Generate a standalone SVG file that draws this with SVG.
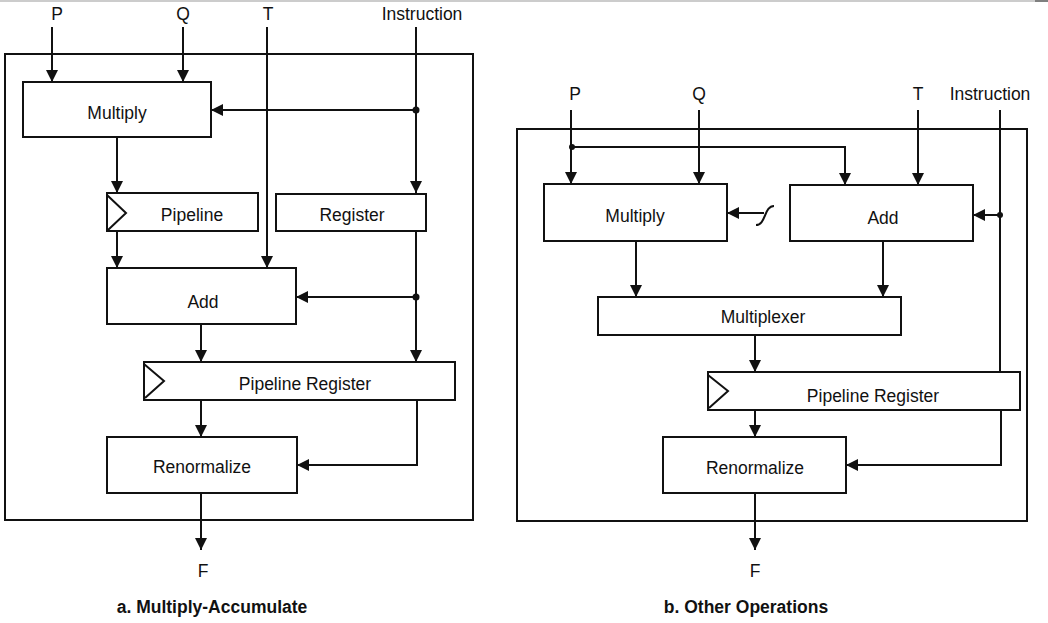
<svg xmlns="http://www.w3.org/2000/svg" width="1048" height="623" viewBox="0 0 1048 623">
<style>
.box{fill:#fff;stroke:#111;stroke-width:2}
.frame{fill:none;stroke:#111;stroke-width:2}
.ln{fill:none;stroke:#111;stroke-width:2}
.lbl{font-family:"Liberation Sans",Arial,sans-serif;font-size:17.5px;fill:#111;text-anchor:middle}
.cap{font-family:"Liberation Sans",Arial,sans-serif;font-size:17.5px;font-weight:bold;fill:#111;text-anchor:middle}
.clk{fill:none;stroke:#111;stroke-width:2}
</style>
<defs>
<marker id="ah" viewBox="0 0 10 10" refX="10" refY="5" markerWidth="6" markerHeight="6.5" orient="auto" markerUnits="strokeWidth">
<path d="M0,0 L10,5 L0,10 z" fill="#111"/>
</marker>
</defs>
<rect width="1048" height="623" fill="#fff"/>
<line x1="0" y1="1" x2="1035" y2="1" stroke="#bbb" stroke-width="1.5"/>
<line x1="1035" y1="1" x2="1048" y2="1" stroke="#555" stroke-width="1.5"/>

<!-- Panel a -->
<rect class="frame" x="5" y="54" width="468" height="466"/>
<g id="a-labels">
<text class="lbl" x="57" y="20">P</text>
<text class="lbl" x="183" y="20">Q</text>
<text class="lbl" x="268" y="20">T</text>
<text class="lbl" x="422" y="20">Instruction</text>
<text class="lbl" x="203" y="577">F</text>
<text class="cap" x="212" y="613">a. Multiply-Accumulate</text>
</g>
<g id="a-multiply"><rect class="box" x="23" y="82" width="188" height="55"/><text class="lbl" x="117" y="119">Multiply</text></g>
<g id="a-pipeline"><rect class="box" x="107" y="193" width="151" height="38"/><polyline class="clk" points="107,195 126,213 108,230"/><text class="lbl" x="192" y="221">Pipeline</text></g>
<g id="a-register"><rect class="box" x="276" y="194" width="150" height="37"/><text class="lbl" x="352" y="221">Register</text></g>
<g id="a-add"><rect class="box" x="107" y="268" width="189" height="56"/><text class="lbl" x="203" y="308">Add</text></g>
<g id="a-pipereg"><rect class="box" x="144" y="362" width="311" height="38"/><polyline class="clk" points="144,364 164,381 145,398"/><text class="lbl" x="305" y="390">Pipeline Register</text></g>
<g id="a-renorm"><rect class="box" x="107" y="437" width="190" height="56"/><text class="lbl" x="202" y="473">Renormalize</text></g>

<!-- Panel b -->
<rect class="frame" x="517" y="129" width="510" height="392"/>
<g id="b-labels">
<text class="lbl" x="575" y="100">P</text>
<text class="lbl" x="699" y="100">Q</text>
<text class="lbl" x="918" y="100">T</text>
<text class="lbl" x="990" y="100">Instruction</text>
<text class="lbl" x="755" y="577">F</text>
<text class="cap" x="746" y="613">b. Other Operations</text>
</g>
<g id="b-multiply"><rect class="box" x="544" y="184" width="183" height="57"/><text class="lbl" x="635" y="222">Multiply</text></g>
<g id="b-add"><rect class="box" x="790" y="185" width="183" height="56"/><text class="lbl" x="883" y="224">Add</text></g>
<g id="b-mux"><rect class="box" x="598" y="297" width="303" height="38"/><text class="lbl" x="763" y="323">Multiplexer</text></g>
<g id="b-pipereg"><rect class="box" x="708" y="372" width="312" height="38"/><polyline class="clk" points="708,375 728,391 709,408"/><text class="lbl" x="873" y="402">Pipeline Register</text></g>
<g id="b-renorm"><rect class="box" x="663" y="437" width="183" height="56"/><text class="lbl" x="755" y="474">Renormalize</text></g>

<g id="connectors">
<!-- a -->
<line class="ln" x1="52" y1="27" x2="52" y2="82" marker-end="url(#ah)"/>
<line class="ln" x1="183" y1="27" x2="183" y2="82" marker-end="url(#ah)"/>
<line class="ln" x1="267" y1="27" x2="267" y2="268" marker-end="url(#ah)"/>
<line class="ln" x1="416" y1="27" x2="416" y2="193" marker-end="url(#ah)"/>
<line class="ln" x1="416" y1="110" x2="211" y2="110" marker-end="url(#ah)"/>
<circle cx="416" cy="110" r="3.5" fill="#111"/>
<line class="ln" x1="117" y1="137" x2="117" y2="193" marker-end="url(#ah)"/>
<line class="ln" x1="117" y1="231" x2="117" y2="268" marker-end="url(#ah)"/>
<line class="ln" x1="416" y1="231" x2="416" y2="362" marker-end="url(#ah)"/>
<line class="ln" x1="416" y1="297" x2="296" y2="297" marker-end="url(#ah)"/>
<circle cx="416" cy="297" r="3.5" fill="#111"/>
<line class="ln" x1="201" y1="324" x2="201" y2="362" marker-end="url(#ah)"/>
<line class="ln" x1="201" y1="400" x2="201" y2="437" marker-end="url(#ah)"/>
<polyline class="ln" points="417,400 417,465 297,465" marker-end="url(#ah)"/>
<line class="ln" x1="201" y1="493" x2="201" y2="550" marker-end="url(#ah)"/>
<!-- b -->
<line class="ln" x1="571" y1="110" x2="571" y2="184" marker-end="url(#ah)"/>
<polyline class="ln" points="571,147 845,147 845,185" marker-end="url(#ah)"/>
<circle cx="572" cy="147" r="3" fill="#111"/>
<line class="ln" x1="699" y1="110" x2="699" y2="184" marker-end="url(#ah)"/>
<line class="ln" x1="918" y1="110" x2="918" y2="185" marker-end="url(#ah)"/>
<line class="ln" x1="1000" y1="110" x2="1000" y2="372"/>
<polyline class="ln" points="1001,410 1001,465 846,465" marker-end="url(#ah)"/>
<line class="ln" x1="1000" y1="215" x2="973" y2="215" marker-end="url(#ah)"/>
<circle cx="1000" cy="215" r="3" fill="#111"/>
<line class="ln" x1="764" y1="213" x2="727" y2="213" marker-end="url(#ah)"/>
<path class="ln" d="M756,225 C766,225 764,206 774,206"/>
<line class="ln" x1="636" y1="241" x2="636" y2="297" marker-end="url(#ah)"/>
<line class="ln" x1="883" y1="241" x2="883" y2="297" marker-end="url(#ah)"/>
<line class="ln" x1="755" y1="335" x2="755" y2="372" marker-end="url(#ah)"/>
<line class="ln" x1="755" y1="410" x2="755" y2="437" marker-end="url(#ah)"/>
<line class="ln" x1="755" y1="493" x2="755" y2="550" marker-end="url(#ah)"/>
</g>
</svg>
